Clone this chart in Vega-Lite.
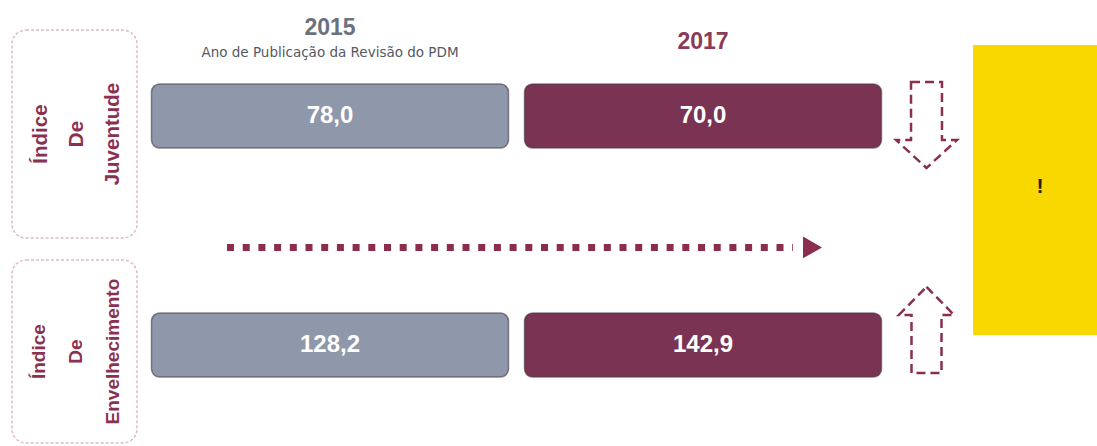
{
  "$schema": "https://vega.github.io/schema/vega-lite/v6.json",
  "width": 1097,
  "height": 446,
  "padding": 0,
  "autosize": {"type": "fit", "contains": "padding"},
  "background": "white",
  "config": {
    "view": {"stroke": null},
    "locale": {"number": {"decimal": ",", "thousands": ".", "grouping": [3], "currency": ["", " €"]}}
  },
  "datasets": {
    "indices": [
      {"indice": "Índice De Juventude", "ano": 2015, "valor": 78.0},
      {"indice": "Índice De Juventude", "ano": 2017, "valor": 70.0},
      {"indice": "Índice De Envelhecimento", "ano": 2015, "valor": 128.2},
      {"indice": "Índice De Envelhecimento", "ano": 2017, "valor": 142.9}
    ],
    "rotulos": [
      {"indice": "Índice De Juventude", "rotulo": "Índice\nDe\nJuventude", "sentido": "desce"},
      {"indice": "Índice De Envelhecimento", "rotulo": "Índice\nDe\nEnvelhecimento", "sentido": "sobe"}
    ],
    "anos": [
      {"ano": 2015, "titulo": "2015", "subtitulo": "Ano de Publicação da Revisão do PDM"},
      {"ano": 2017, "titulo": "2017", "subtitulo": ""}
    ],
    "nota": [{"nota": "!"}],
    "tendencia": [{"descricao": "evolução 2015 → 2017"}]
  },
  "layer": [
    {
      "data": {"name": "nota"},
      "mark": {"type": "rect", "color": "#f9d800"},
      "encoding": {
        "x": {"datum": 2018.4478, "type": "quantitative", "scale": {"domain": [2013.2306, 2019.1126], "zero": false, "nice": false}, "axis": null},
        "x2": {"datum": 2019.1126},
        "y": {"datum": "Índice De Juventude", "type": "nominal", "bandPosition": 0.109, "scale": {"type": "band", "domain": ["Índice De Juventude", "Índice De Envelhecimento"], "range": [20, 478], "paddingInner": 0, "paddingOuter": 0}, "axis": null},
        "y2": {"datum": "Índice De Envelhecimento", "bandPosition": 0.3755}
      }
    },
    {
      "data": {"name": "nota"},
      "mark": {"type": "text", "font": "Liberation Sans", "fontWeight": "bold", "fontSize": 21, "color": "#1e1e1e", "align": "center", "baseline": "middle"},
      "encoding": {
        "x": {"datum": 2018.8065, "type": "quantitative"},
        "y": {"datum": "Índice De Juventude", "type": "nominal", "bandPosition": 0.729},
        "text": {"field": "nota", "type": "nominal"}
      }
    },
    {
      "data": {"name": "rotulos"},
      "transform": [{"filter": "datum.indice == 'Índice De Juventude'"}],
      "mark": {"type": "rect", "fill": "transparent", "stroke": "#dcbcc6", "strokeWidth": 1.5, "strokeDash": [3, 2], "cornerRadius": 14},
      "encoding": {
        "x": {"datum": 2013.295, "type": "quantitative"},
        "x2": {"datum": 2013.965},
        "y": {"field": "indice", "type": "nominal", "bandPosition": 0.044},
        "y2": {"field": "indice", "bandPosition": 0.952}
      }
    },
    {
      "data": {"name": "rotulos"},
      "transform": [{"filter": "datum.indice == 'Índice De Envelhecimento'"}],
      "mark": {"type": "rect", "fill": "transparent", "stroke": "#dcbcc6", "strokeWidth": 1.5, "strokeDash": [3, 2], "cornerRadius": 14},
      "encoding": {
        "x": {"datum": 2013.295, "type": "quantitative"},
        "x2": {"datum": 2013.965},
        "y": {"field": "indice", "type": "nominal", "bandPosition": 0.048},
        "y2": {"field": "indice", "bandPosition": 0.847}
      }
    },
    {
      "data": {"name": "rotulos"},
      "transform": [{"filter": "datum.indice == 'Índice De Juventude'"}],
      "mark": {"type": "text", "angle": 270, "lineBreak": "\n", "lineHeight": 36, "align": "center", "baseline": "middle", "font": "Liberation Sans", "fontWeight": "bold", "fontSize": 20.5, "color": "#8a3153"},
      "encoding": {
        "x": {"datum": 2013.4504, "type": "quantitative"},
        "y": {"field": "indice", "type": "nominal", "bandPosition": 0.498},
        "text": {"field": "rotulo", "type": "nominal"}
      }
    },
    {
      "data": {"name": "rotulos"},
      "transform": [{"filter": "datum.indice == 'Índice De Envelhecimento'"}],
      "mark": {"type": "text", "angle": 270, "lineBreak": "\n", "lineHeight": 37, "align": "center", "baseline": "middle", "font": "Liberation Sans", "fontWeight": "bold", "fontSize": 19, "color": "#8a3153"},
      "encoding": {
        "x": {"datum": 2013.4397, "type": "quantitative"},
        "y": {"field": "indice", "type": "nominal", "bandPosition": 0.448},
        "text": {"field": "rotulo", "type": "nominal"}
      }
    },
    {
      "data": {"name": "indices"},
      "mark": {"type": "rect", "width": 357, "cornerRadius": 8, "strokeWidth": 1.5, "strokeOpacity": 0.6, "stroke": "#4a3a48"},
      "encoding": {
        "x": {"field": "ano", "type": "quantitative"},
        "y": {"field": "indice", "type": "nominal", "bandPosition": 0.2795},
        "y2": {"field": "indice", "bandPosition": 0.559},
        "color": {"field": "ano", "type": "nominal", "scale": {"domain": [2015, 2017], "range": ["#8f97ab", "#7a3352"]}, "legend": null}
      }
    },
    {
      "data": {"name": "indices"},
      "mark": {"type": "text", "font": "Liberation Sans", "fontWeight": "bold", "fontSize": 24, "color": "white", "align": "center", "baseline": "middle"},
      "encoding": {
        "x": {"field": "ano", "type": "quantitative"},
        "y": {"field": "indice", "type": "nominal", "bandPosition": 0.419},
        "text": {"field": "valor", "type": "quantitative", "format": ".1f"}
      }
    },
    {
      "data": {"name": "anos"},
      "transform": [{"filter": "datum.ano == 2015"}],
      "mark": {"type": "text", "font": "Liberation Sans", "fontWeight": "bold", "fontSize": 23, "color": "#6c717d", "align": "center", "baseline": "middle"},
      "encoding": {
        "x": {"field": "ano", "type": "quantitative"},
        "y": {"datum": "Índice De Juventude", "type": "nominal", "bandPosition": 0.037},
        "text": {"field": "titulo", "type": "nominal"}
      }
    },
    {
      "data": {"name": "anos"},
      "transform": [{"filter": "datum.ano == 2015"}],
      "mark": {"type": "text", "font": "DejaVu Sans", "fontSize": 13.5, "color": "#55585f", "align": "center", "baseline": "middle"},
      "encoding": {
        "x": {"field": "ano", "type": "quantitative"},
        "y": {"datum": "Índice De Juventude", "type": "nominal", "bandPosition": 0.144},
        "text": {"field": "subtitulo", "type": "nominal"}
      }
    },
    {
      "data": {"name": "anos"},
      "transform": [{"filter": "datum.ano == 2017"}],
      "mark": {"type": "text", "font": "Liberation Sans", "fontWeight": "bold", "fontSize": 23, "color": "#8b3a57", "align": "center", "baseline": "middle"},
      "encoding": {
        "x": {"field": "ano", "type": "quantitative"},
        "y": {"datum": "Índice De Juventude", "type": "nominal", "bandPosition": 0.096},
        "text": {"field": "titulo", "type": "nominal"}
      }
    },
    {
      "data": {"name": "rotulos"},
      "mark": {"type": "point", "filled": false, "size": 14400, "stroke": "#8b2f4f", "strokeWidth": 2.5, "strokeDash": [9, 5], "opacity": 1},
      "encoding": {
        "x": {"datum": 2018.1984, "type": "quantitative"},
        "y": {"field": "indice", "type": "nominal", "bandPosition": 0.419},
        "shape": {"field": "sentido", "type": "nominal", "scale": {"domain": ["desce", "sobe"], "range": ["M-0.258,-0.567L0.258,-0.567L0.258,0.4L0.508,0.4L0,0.867L-0.508,0.4L-0.258,0.4Z", "M0,-0.967L0.46,-0.5L0.25,-0.5L0.25,0.467L-0.25,0.467L-0.25,-0.5L-0.46,-0.5Z"]}, "legend": null}
      }
    },
    {
      "data": {"name": "tendencia"},
      "mark": {"type": "rule", "color": "#8b2d4e", "strokeWidth": 7, "strokeDash": [7, 8.7]},
      "encoding": {
        "x": {"datum": 2014.4478, "type": "quantitative"},
        "x2": {"datum": 2017.4826},
        "y": {"datum": "Índice De Juventude", "type": "nominal", "bandPosition": 0.993}
      }
    },
    {
      "data": {"name": "tendencia"},
      "mark": {"type": "point", "shape": "triangle-right", "filled": true, "size": 480, "color": "#8b2d4e", "opacity": 1},
      "encoding": {
        "x": {"datum": 2017.5872, "type": "quantitative"},
        "y": {"datum": "Índice De Juventude", "type": "nominal", "bandPosition": 0.993}
      }
    }
  ]
}
